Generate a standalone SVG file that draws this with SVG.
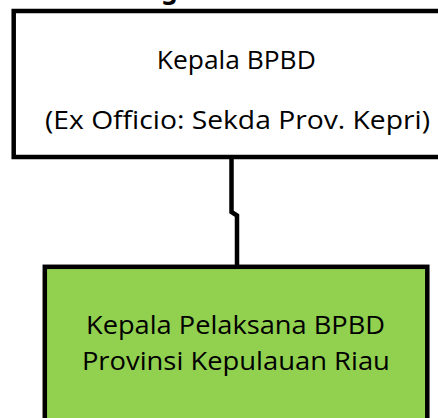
<svg xmlns="http://www.w3.org/2000/svg" width="438" height="418" viewBox="0 0 438 418">
  <style>
    .box { stroke: #000000; stroke-width: 4.5; }
    .top { fill: #FFFFFF; }
    .green { fill: #92D050; }
    .label { font-family: "Open Sans", "Noto Sans", sans-serif; font-size: 25.5px; fill: #000000; text-anchor: middle; }
    .title { font-family: "Noto Sans", "Open Sans", sans-serif; font-size: 26px; font-weight: bold; fill: #000000; text-anchor: middle; }
    .conn { fill: none; stroke: #000000; stroke-width: 4.5; }
  </style>
  <rect width="438" height="418" fill="#FFFFFF"/>
  <text class="title" x="169.5" y="-1">g</text>
  <g id="connectors">
    <path class="conn" d="M231.5 157 V212 L237 215.5 V267"/>
  </g>
  <g id="node-kepala-bpbd">
    <rect class="box top" x="13.7" y="11" width="450" height="146"/>
    <text class="label" x="236.3" y="69.3" textLength="159" lengthAdjust="spacingAndGlyphs">Kepala BPBD</text>
    <text class="label" x="237.5" y="129" textLength="385" lengthAdjust="spacingAndGlyphs">(Ex Officio: Sekda Prov. Kepri)</text>
  </g>
  <g id="node-kepala-pelaksana">
    <rect class="box green" x="44.8" y="266.8" width="382.5" height="170"/>
    <text class="label" x="235.5" y="334" textLength="299" lengthAdjust="spacingAndGlyphs">Kepala Pelaksana BPBD</text>
    <text class="label" x="235.9" y="370" textLength="308" lengthAdjust="spacingAndGlyphs">Provinsi Kepulauan Riau</text>
  </g>
</svg>
